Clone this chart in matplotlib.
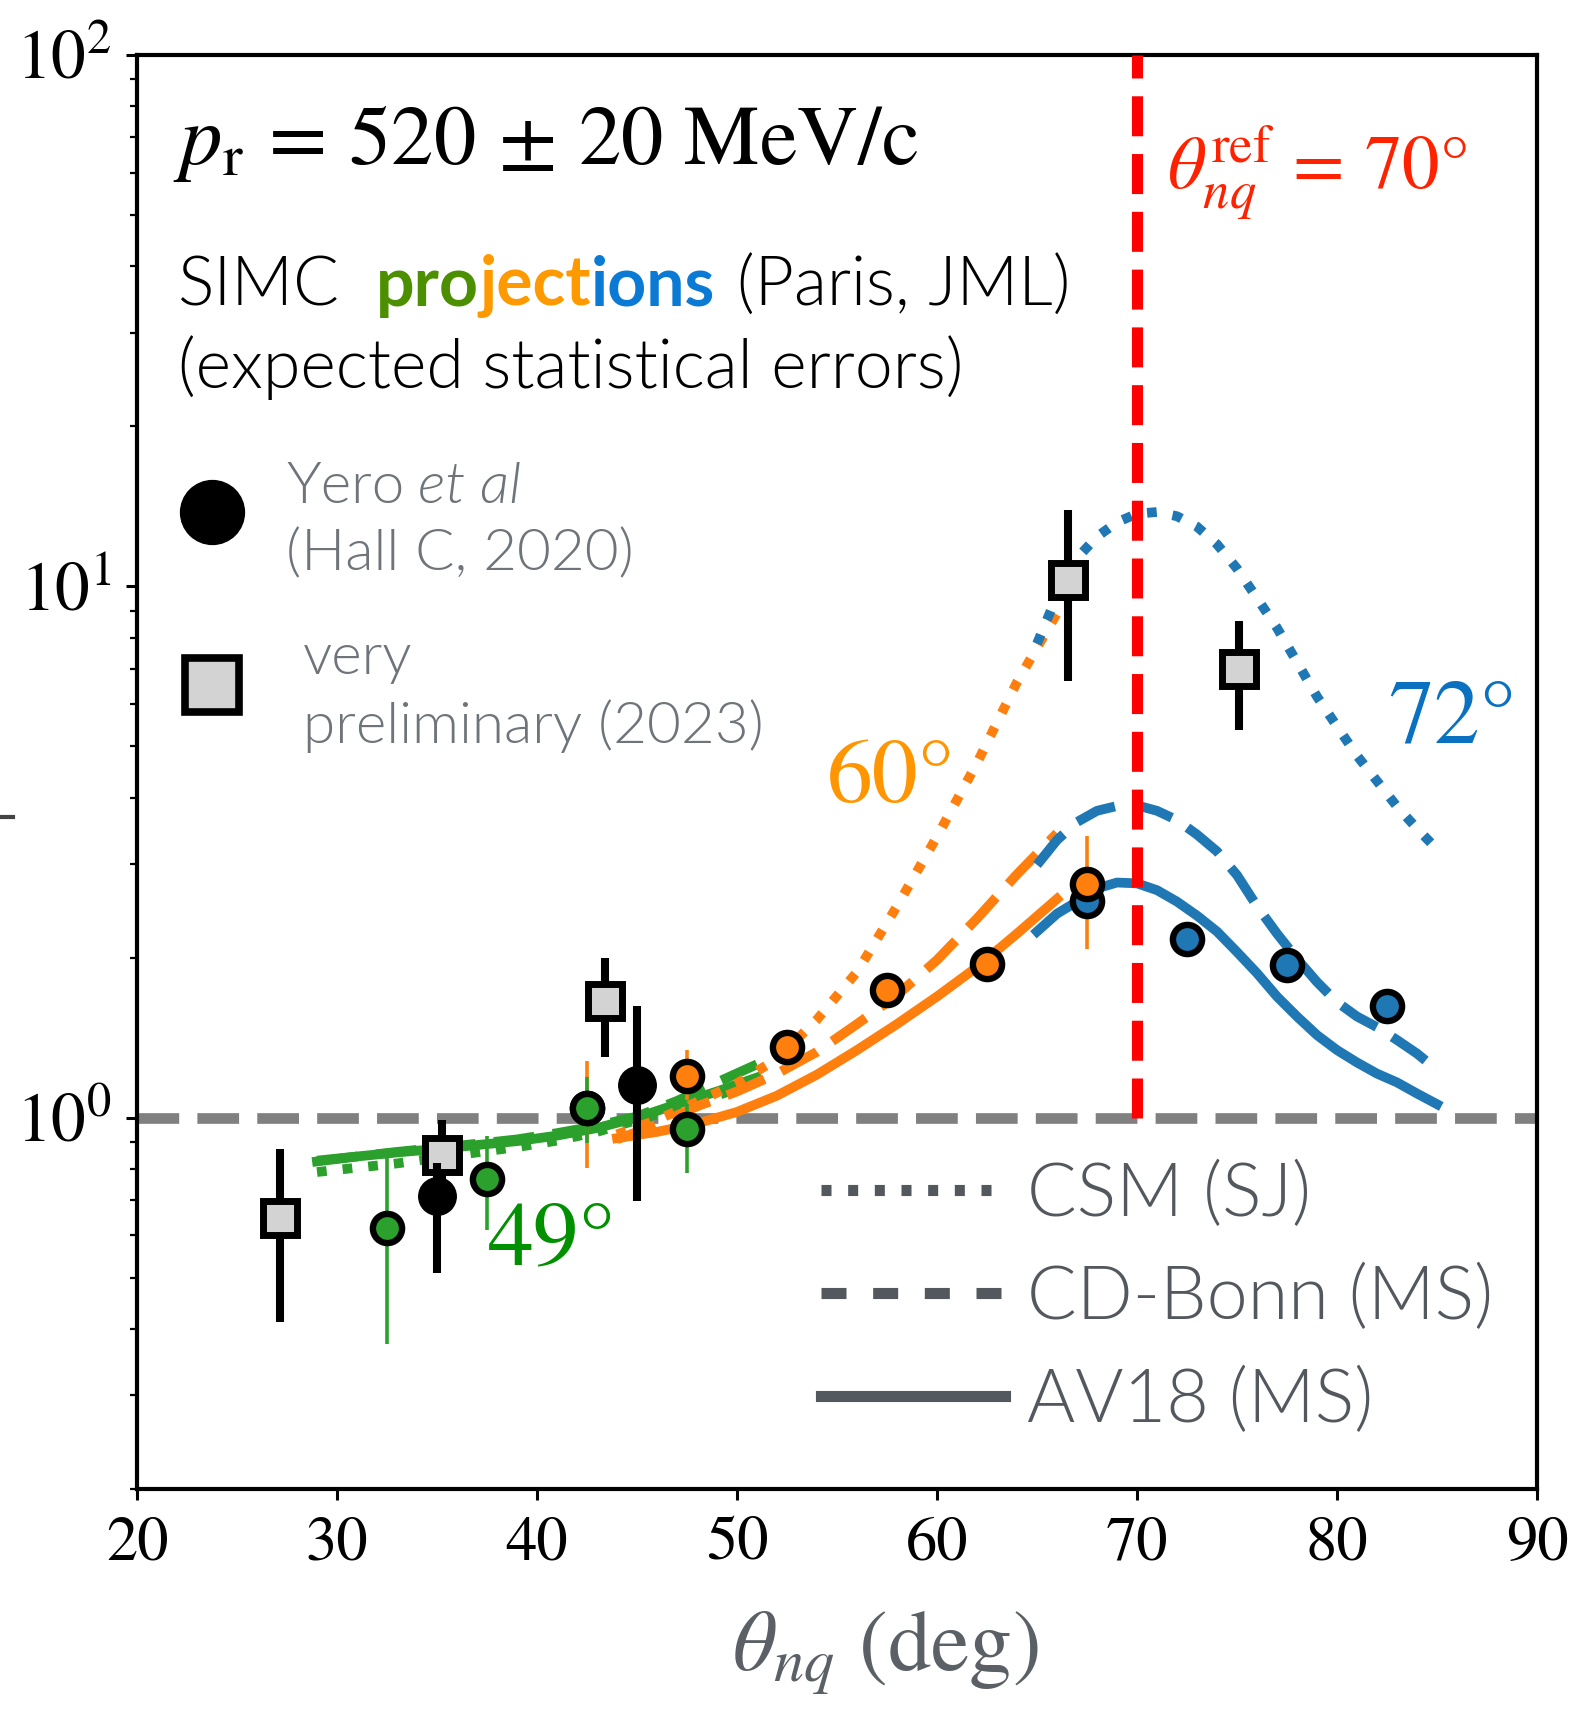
import matplotlib
matplotlib.use("Agg")
import matplotlib.pyplot as plt
from matplotlib.lines import Line2D

plt.rcParams['font.family'] = 'STIXGeneral'
plt.rcParams['mathtext.fontset'] = 'stix'

# ---------------- theory curves (ratio vs theta_nq) ----------------
theta_49 = [29, 31, 33, 35, 37, 39, 41, 43, 45, 47, 49, 51]
csm_49 = [0.79, 0.805, 0.82, 0.84, 0.86, 0.88, 0.905, 0.94, 0.99, 1.04, 1.10, 1.17]
cdbonn_49 = [0.83, 0.845, 0.862, 0.877, 0.893, 0.91, 0.935, 0.965, 1.005, 1.075, 1.165, 1.26]
av18_49 = [0.827, 0.845, 0.86, 0.873, 0.888, 0.903, 0.925, 0.956, 1.0, 1.06, 1.12, 1.19]

theta_60 = [44, 46, 48, 50, 52, 54, 56, 58, 60, 62, 64, 66]
csm_60 = [0.93, 0.99, 1.07, 1.16, 1.29, 1.53, 1.88, 2.50, 3.38, 4.65, 6.6, 8.9]
cdbonn_60 = [0.91, 0.97, 1.05, 1.12, 1.21, 1.33, 1.50, 1.70, 1.98, 2.37, 2.87, 3.43]
av18_60 = [0.915, 0.94, 0.975, 1.025, 1.10, 1.205, 1.34, 1.50, 1.69, 1.92, 2.22, 2.58]

theta_72 = [65, 66, 67, 68, 69, 70, 71, 72, 73, 74, 75, 76, 77, 78, 79, 80,
            81, 82, 83, 84, 85]
csm_72 = [7.8, 9.6, 11.3, 12.4, 13.2, 13.7, 13.8, 13.55, 12.95, 12.0, 10.8,
          9.5, 8.35, 7.2, 6.2, 5.45, 4.8, 4.3, 3.85, 3.5, 3.2]
cdbonn_72 = [2.99, 3.33, 3.60, 3.78, 3.86, 3.87, 3.78, 3.63, 3.41, 3.17, 2.86,
             2.50, 2.22, 1.99, 1.80, 1.65, 1.55, 1.48, 1.40, 1.32, 1.23]
av18_72 = [2.24, 2.42, 2.55, 2.70, 2.77, 2.76, 2.68, 2.55, 2.40, 2.24, 2.05,
           1.87, 1.69, 1.55, 1.43, 1.34, 1.27, 1.21, 1.165, 1.11, 1.06]

# ---------------- SIMC projected points ----------------
simc49_theta = [32.5, 37.5, 42.5, 47.5]
simc49_ratio = [0.621, 0.767, 1.043, 0.952]
simc49_lo = [0.375, 0.615, 0.897, 0.788]
simc49_hi = [0.870, 0.922, 1.19, 1.06]

simc60_theta = [42.5, 47.5, 52.5, 57.5, 62.5, 67.5]
simc60_ratio = [1.043, 1.196, 1.36, 1.74, 1.95, 2.75]
simc60_lo = [0.805, 1.08, 1.29, 1.66, 1.87, 2.08]
simc60_hi = [1.276, 1.34, 1.45, 1.82, 2.04, 3.39]

simc72_theta = [67.5, 72.5, 77.5, 82.5]
simc72_ratio = [2.56, 2.17, 1.94, 1.62]
simc72_lo = [2.50, 2.12, 1.89, 1.55]
simc72_hi = [2.62, 2.22, 1.99, 1.71]

# ---------------- measured data ----------------
yero_theta = [35.0, 45.0]
yero_ratio = [0.711, 1.154]
yero_lo = [0.51, 0.696]
yero_hi = [0.82, 1.62]

prelim_theta = [27.15, 35.24, 43.38, 66.57, 75.12]
prelim_ratio = [0.647, 0.851, 1.66, 10.26, 6.98]
prelim_lo = [0.413, 0.73, 1.30, 6.63, 5.36]
prelim_hi = [0.872, 0.99, 2.00, 13.9, 8.6]

theta_ref = 70
unity = 1.0

series_labels = ['49°', '60°', '72°']
model_labels = ['CSM (SJ)', 'CD-Bonn (MS)', 'AV18 (MS)']

GREEN, ORANGE, BLUE = '#2ca02c', '#ff7f0e', '#1f77b4'
LW = 7
DASH = (0, (4.2, 1.9))

fig = plt.figure(figsize=(15.8, 17.13), dpi=100)
ax = fig.add_axes([137 / 1580, 1 - 1489 / 1713, 1400 / 1580, 1434 / 1713])
ax.set_yscale('log')
ax.set_xlim(20, 90)
ax.set_ylim(0.2, 100)

ax.axhline(unity, color='#808080', lw=7.7, ls=(0, (3.9, 1.7)), zorder=1)

curves = [
    (theta_49, csm_49, cdbonn_49, av18_49, GREEN),
    (theta_60, csm_60, cdbonn_60, av18_60, ORANGE),
    (theta_72, csm_72, cdbonn_72, av18_72, BLUE),
]
for th, csm, cdb, av, c in curves:
    ax.plot(th, csm, ls=':', color=c, lw=LW, zorder=2)
    ax.plot(th, cdb, ls=DASH, color=c, lw=LW, zorder=2)
    ax.plot(th, av, ls='-', color=c, lw=LW, zorder=2)

ax.vlines(theta_ref, unity, 100, colors='#ff0000', lw=8, linestyles=(0, (3.6, 1.6)),
          zorder=3)


def err(vals, lo, hi):
    return [[v - l for v, l in zip(vals, lo)], [h - v for v, h in zip(vals, hi)]]


# SIMC projections (thin error bars, ringed points)
for th, r, lo, hi, c in [
    (simc72_theta, simc72_ratio, simc72_lo, simc72_hi, BLUE),
    (simc60_theta, simc60_ratio, simc60_lo, simc60_hi, ORANGE),
    (simc49_theta, simc49_ratio, simc49_lo, simc49_hi, GREEN),
]:
    ax.errorbar(th, r, yerr=err(r, lo, hi), fmt='none', ecolor=c, elinewidth=2.6,
                zorder=4)
    ax.plot(th, r, 'o', ms=21, mfc=c, mec='black', mew=4.6, ls='none', zorder=5)

# preliminary data
ax.errorbar(prelim_theta, prelim_ratio, yerr=err(prelim_ratio, prelim_lo, prelim_hi),
            fmt='s', ms=25, mfc='#d3d3d3', mec='black', mew=5, ecolor='black',
            elinewidth=5.8, zorder=6)
# Yero et al.
ax.errorbar(yero_theta, yero_ratio, yerr=err(yero_ratio, yero_lo, yero_hi),
            fmt='o', ms=27, mfc='black', mec='black', ecolor='black',
            elinewidth=5.8, zorder=7)

# ---------------- axes styling ----------------
for sp in ax.spines.values():
    sp.set_linewidth(3)
ax.set_xticks([20, 30, 40, 50, 60, 70, 80, 90])
ax.tick_params(axis='both', which='major', direction='out', length=8, width=2.2,
               labelsize=45, pad=12)
ax.tick_params(axis='y', which='minor', direction='out', length=5, width=1.6)
ax.tick_params(axis='y', which='major', labelsize=50, pad=10)
ax.set_xlabel(r'$\theta_{nq}$ (deg)', fontsize=62, color='#5b6066')
ax.xaxis.set_label_coords((885 - 137) / 1400, -0.083)
ax.xaxis.label.set_va('top')

# ---------------- annotations ----------------
ax.text(0.026, 0.924, r'$p_\mathrm{r}\,=\,520\,\pm\,20\ \mathrm{MeV/c}$', fontsize=61,
        transform=ax.transAxes, va='baseline', ha='left')
ax.text(71.5, 55.7, r'$\theta_{nq}^{\mathrm{ref}}\,=\,$' + f'{theta_ref}°',
        fontsize=54, color='#ff2200', va='baseline', ha='left')

ax.text(37.55, 0.529, series_labels[0], fontsize=66, color='#009000', va='baseline')
ax.text(54.5, 3.92, series_labels[1], fontsize=66, color='#ff9500', va='baseline')
ax.text(82.55, 5.08, series_labels[2], fontsize=66, color='#0a70c0', va='baseline')

SANS = 'Lato'
THIN = 300


def chain(pieces, x, y, size, gaps):
    t = ax.text(x, y, pieces[0][0], transform=ax.transAxes, va='baseline', ha='left',
                fontsize=size, family=SANS, **pieces[0][1])
    for (s, kw), g in zip(pieces[1:], gaps):
        t = ax.annotate(s, xy=(1, 0), xycoords=t, xytext=(g, 0),
                        textcoords='offset points', va='bottom', ha='left',
                        fontsize=size, family=SANS, **kw)
    return t


light = dict(color='black', fontweight=THIN)
chain([('SIMC', light),
       ('pro', dict(color='#4c8f00', fontweight='bold')),
       ('ject', dict(color='#ff9900', fontweight='bold')),
       ('ions', dict(color='#0a7ad4', fontweight='bold')),
       ('(Paris, JML)', light)],
      0.0293, 0.825, 49, [26, 0, 0, 16])
ax.text(0.0293, 0.7678, '(expected statistical errors)', transform=ax.transAxes,
        fontsize=49, family=SANS, fontweight=THIN, va='baseline')

# marker key for the data sets
GRAYTXT = '#6f747a'
ax.plot([0.0536], [0.681], 'o', ms=46, mfc='black', mec='black',
        transform=ax.transAxes, clip_on=False)
ax.plot([0.0536], [0.561], 's', ms=39, mfc='#d3d3d3', mec='black', mew=5.5,
        transform=ax.transAxes, clip_on=False)
chain([('Yero', dict(color=GRAYTXT, fontweight=THIN)),
       ('et al', dict(color=GRAYTXT, fontweight=THIN, style='italic'))],
      0.1064, 0.6876, 42, [10])
ax.text(0.1064, 0.6409, '(Hall C, 2020)', transform=ax.transAxes, fontsize=42,
        family=SANS, fontweight=THIN, color=GRAYTXT, va='baseline')
ax.text(0.1186, 0.5683, 'very', transform=ax.transAxes, fontsize=42,
        family=SANS, fontweight=THIN, color=GRAYTXT, va='baseline')
ax.text(0.1186, 0.520, 'preliminary (2023)', transform=ax.transAxes, fontsize=42,
        family=SANS, fontweight=THIN, color=GRAYTXT, va='baseline')

# line-style key for the models
KEYC = '#53585e'
handles = [Line2D([], [], color=KEYC, lw=8, ls=(0, (0.9, 1.5))),
           Line2D([], [], color=KEYC, lw=8, ls=(0, (2.25, 2.4))),
           Line2D([], [], color=KEYC, lw=8, ls='-')]
leg = ax.legend(handles, model_labels, loc='center left',
                bbox_to_anchor=((821 - 137) / 1400, (1489 - 1298) / 1434),
                frameon=False, borderpad=0, borderaxespad=0, handlelength=2.5,
                handletextpad=0.3, labelspacing=0.48,
                prop=dict(family=SANS, size=53, weight=THIN))
for t in leg.get_texts():
    t.set_color(KEYC)

# clipped mark at the left figure edge
fig.add_artist(Line2D([0, 13 / 1580], [1 - 817 / 1713] * 2, color='#444444', lw=3,
                      transform=fig.transFigure))

fig.savefig('out.png', dpi=100)
